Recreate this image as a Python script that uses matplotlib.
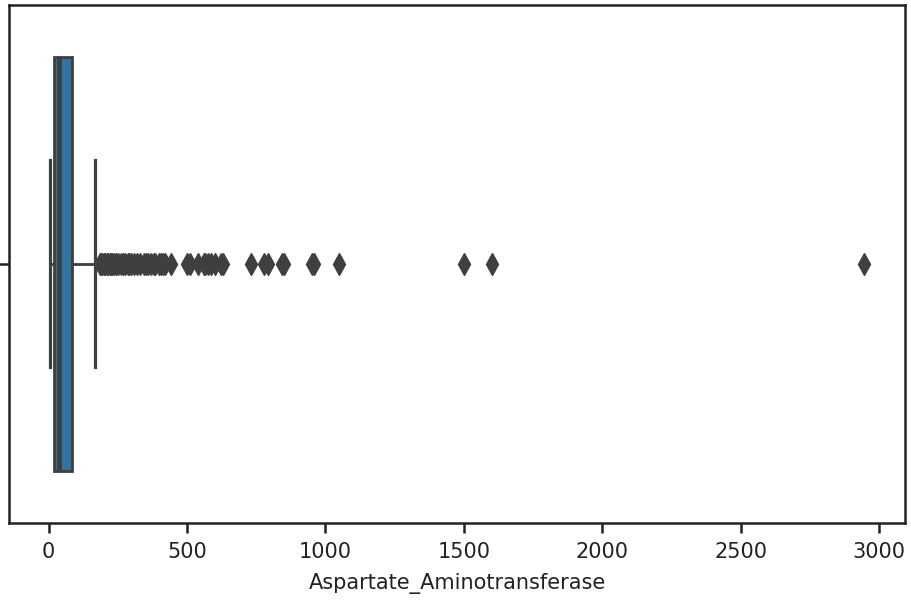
import matplotlib
matplotlib.use("Agg")
import matplotlib.pyplot as plt

# Summary statistics of Aspartate_Aminotransferase
whisker_low = 5
q1 = 20
median = 37
q3 = 86
whisker_high = 168

# Outliers beyond the upper whisker
fliers = [185, 190, 194, 199, 205, 210, 215, 220, 225, 230, 236, 245, 250,
          260, 268, 275, 285, 290, 298, 310, 320, 330, 345, 350, 360, 368,
          380, 386, 397, 406, 412, 419, 441,
          500, 511, 540, 560, 566, 576, 588, 602, 623, 630,
          730, 779, 794, 842, 850, 950, 960, 1050, 1500, 1600, 2946]

xlabel = "Aspartate_Aminotransferase"

box_color = "#3274a1"
line_color = "#3f3f3f"
lw = 2.0

fig = plt.figure(figsize=(9.12, 6.03), dpi=100)
ax = fig.add_axes([0.0102, 0.1332, 0.9821, 0.8585])

stats = [dict(whislo=whisker_low, q1=q1, med=median, q3=q3,
              whishi=whisker_high, fliers=fliers)]
ax.bxp(stats, positions=[0], widths=0.8, vert=False, patch_artist=True,
       boxprops=dict(facecolor=box_color, edgecolor=line_color, linewidth=lw),
       medianprops=dict(color=line_color, linewidth=3.5),
       whiskerprops=dict(color=line_color, linewidth=lw),
       capprops=dict(color=line_color, linewidth=2.3),
       flierprops=dict(marker="d", markersize=11, markerfacecolor=line_color,
                       markeredgecolor=line_color, linestyle="none"))

ax.set_ylim(0.5, -0.5)
ax.set_yticks([0])
ax.set_yticklabels([""])
ax.set_xticks([0, 500, 1000, 1500, 2000, 2500, 3000])
ax.margins(x=0.05)
ax.tick_params(axis="both", length=7, width=1.8, labelsize=15, pad=7,
               colors="#222222")
for s in ax.spines.values():
    s.set_linewidth(1.8)
    s.set_color("#222222")
ax.set_xlabel(xlabel, fontsize=15, labelpad=8, color="#222222")

fig.savefig("out.png", dpi=100)
